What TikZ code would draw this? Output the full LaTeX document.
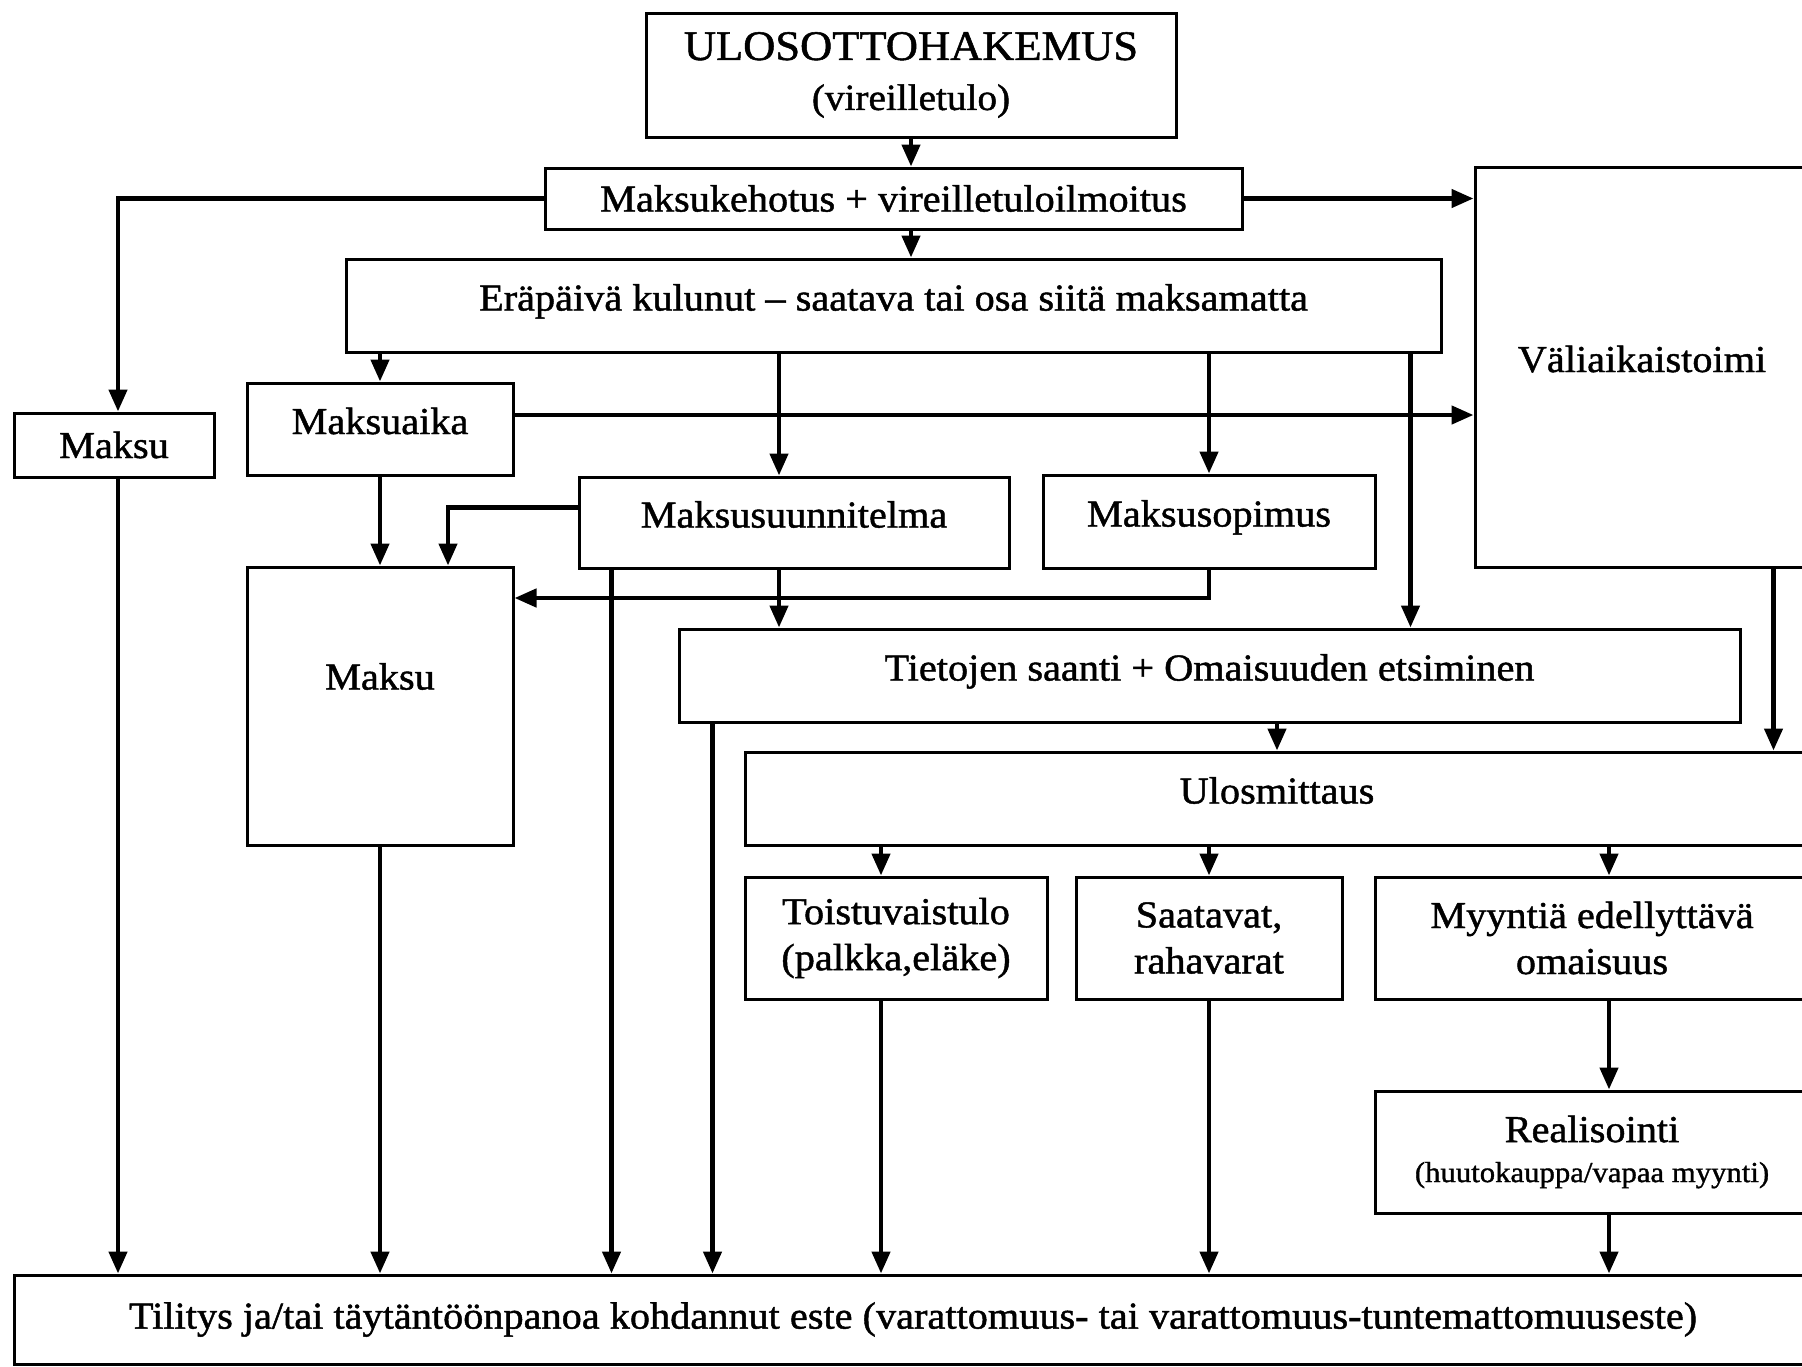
\documentclass[tikz,border=0pt]{standalone}
\usepackage{fontspec}
\setmainfont{Liberation Serif}[FakeBold=1.2, FakeStretch=1.06]
\usetikzlibrary{arrows.meta}

\tikzset{
  box/.style={draw, line width=3pt, inner sep=0pt, align=center,
    font=\fontsize{38}{46}\selectfont},
  one/.style={text height=26pt, text depth=16pt},
  link/.style={line width=4.5pt, -{Triangle[length=22pt,width=18pt]}},
}

\begin{document}
\begin{tikzpicture}[x=1pt,y=-1pt]
	\useasboundingbox (0,0) rectangle (1802,1366);
	\fill[white] (0,0) rectangle (1802,1366);
	\clip (0,0) rectangle (1802,1366);

	% Boxes
	\node[box, minimum width=530, minimum height=124, font=\fontsize{37}{50}\selectfont] (hakemus) at (911,75)
		{{\fontsize{42}{50}\selectfont ULOSOTTOHAKEMUS}\\(vireilletulo)};
	\node[box, minimum width=697, minimum height=61] (kehotus) at (893.5,198.5) {Maksukehotus + vireilletuloilmoitus};
	\node[box, one, minimum width=1095, minimum height=93] (erapaiva) at (893.5,305.5) {Eräpäivä kulunut – saatava tai osa siitä maksamatta};
	\node[box, one, minimum width=334, minimum height=400] (valiaik) at (1642,367) {Väliaikaistoimi};
	\node[box, minimum width=200, minimum height=64] (maksu1) at (114,445) {Maksu};
	\node[box, one, minimum width=266, minimum height=92] (maksuaika) at (380,429) {Maksuaika};
	\node[box, one, minimum width=430, minimum height=91] (maksusuun) at (794,522.5) {Maksusuunnitelma};
	\node[box, one, minimum width=332, minimum height=93] (maksusopimus) at (1209,521.5) {Maksusopimus};
	\node[box, text height=26pt, text depth=59pt, minimum width=266, minimum height=278] (maksubig) at (380,706) {Maksu};
	\node[box, one, minimum width=1061, minimum height=93] (tietojen) at (1209.5,675.5) {Tietojen saanti + Omaisuuden etsiminen};
	\node[box, one, minimum width=1064, minimum height=93] (ulosmittaus) at (1277,798.5) {Ulosmittaus};
	\node[box, minimum width=302, minimum height=122] (toistuvais) at (896,938) {Toistuvaistulo\\(palkka,eläke)};
	\node[box, minimum width=266, minimum height=122] (saatavat) at (1209,938) {Saatavat,\\rahavarat};
	\node[box, minimum width=434, minimum height=122] (myyntia) at (1592,938) {Myyntiä edellyttävä\\omaisuus};
	\node[box, minimum width=434, minimum height=122, font=\fontsize{29}{40}\selectfont] (realisointi) at (1592,1152)
		{{\fontsize{38}{40}\selectfont Realisointi}\\(huutokauppa/vapaa myynti)};
	\node[box, minimum width=1798, minimum height=89] (tilitys) at (913,1319.5) {Tilitys ja/tai täytäntöönpanoa kohdannut este (varattomuus- tai varattomuus-tuntemattomuuseste)};

	% Top part
	\draw[link] (hakemus.south) -- (hakemus.south |- kehotus.north);
	\draw[link] (hakemus.south |- kehotus.south) -- (hakemus.south |- erapaiva.north);
	\draw[link] (kehotus.west) -| ([xshift=4pt]maksu1.north);
	\draw[link] (kehotus.east) -- (kehotus.east -| valiaik.west);
	\draw[link] ([yshift=14pt]maksuaika.east) -- ([yshift=14pt]maksuaika.east -| valiaik.west);

	% From Erapaiva
	\draw[link] (maksuaika.north |- erapaiva.south) -- (maksuaika.north);
	\draw[link] ([xshift=-15pt]maksusuun.north |- erapaiva.south) -- ([xshift=-15pt]maksusuun.north);
	\draw[link] (maksusopimus.north |- erapaiva.south) -- (maksusopimus.north);
	\draw[link] ([xshift=-32pt]erapaiva.south east) -- ([xshift=-32pt]erapaiva.south east |- tietojen.north);

	% Payment
	\draw[link] (maksuaika.south) -- (maksubig.north);
	\draw[link] ([yshift=15pt]maksusuun.west) -| ([xshift=68pt]maksubig.north);
	\draw[link] (maksusopimus.south) |- ([yshift=108pt]maksubig.east);
	\draw[link] ([xshift=-15pt]maksusuun.south) -- ([xshift=-15pt]maksusuun.south |- tietojen.north);

	% Distraint
	\draw[link] (ulosmittaus.north |- tietojen.south) -- (ulosmittaus.north);
	\draw[link] ([xshift=300pt]valiaik.south west) -- ([xshift=300pt]valiaik.south west |- ulosmittaus.north);
	\draw[link] ([xshift=-15pt]toistuvais.north |- ulosmittaus.south) -- ([xshift=-15pt]toistuvais.north);
	\draw[link] (saatavat.north |- ulosmittaus.south) -- (saatavat.north);
	\draw[link] ([xshift=17pt]myyntia.north |- ulosmittaus.south) -- ([xshift=17pt]myyntia.north);
	\draw[link] ([xshift=17pt]myyntia.south) -- ([xshift=17pt]realisointi.north);

	% Into Tilitys
	\draw[link] ([xshift=4pt]maksu1.south) -- ([xshift=4pt]maksu1.south |- tilitys.north);
	\draw[link] (maksubig.south) -- (maksubig.south |- tilitys.north);
	\draw[link] ([xshift=34pt]maksusuun.south west) -- ([xshift=34pt]maksusuun.south west |- tilitys.north);
	\draw[link] ([xshift=35pt]tietojen.south west) -- ([xshift=35pt]tietojen.south west |- tilitys.north);
	\draw[link] ([xshift=-15pt]toistuvais.south) -- ([xshift=-15pt]toistuvais.south |- tilitys.north);
	\draw[link] (saatavat.south) -- (saatavat.south |- tilitys.north);
	\draw[link] ([xshift=17pt]realisointi.south) -- ([xshift=17pt]realisointi.south |- tilitys.north);
\end{tikzpicture}
\end{document}
